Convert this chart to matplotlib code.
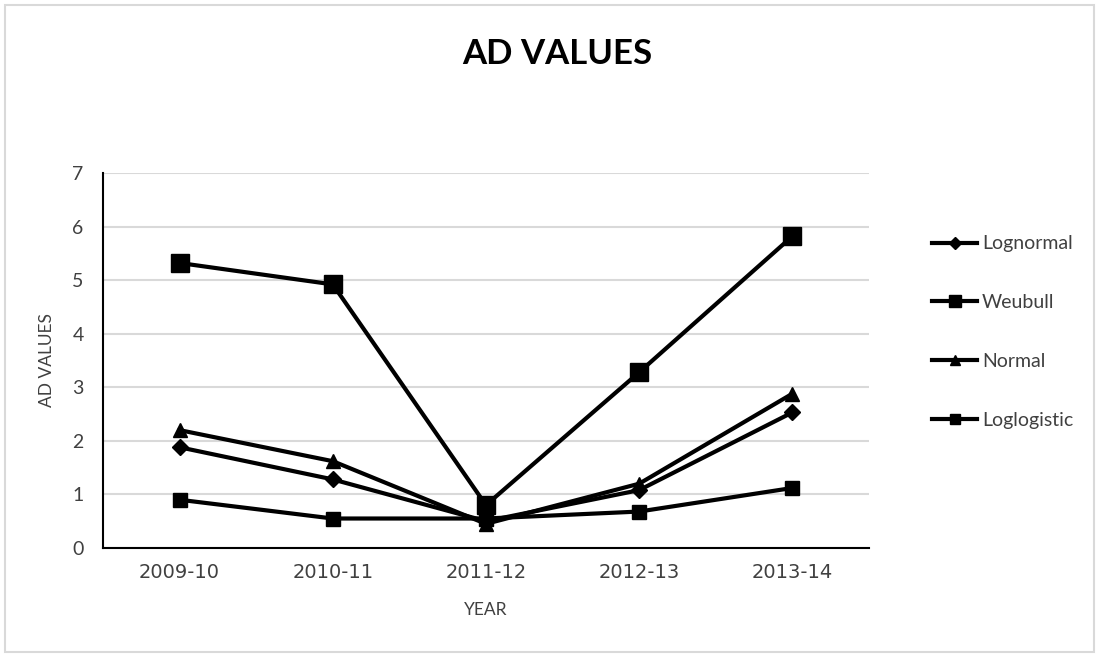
import numpy as np
import matplotlib.pyplot as plt
from matplotlib.patches import Rectangle

years = ["2009-10", "2010-11", "2011-12", "2012-13", "2013-14"]
lognormal = [1.88, 1.28, 0.50, 1.08, 2.53]
weubull = [5.32, 4.92, 0.80, 3.28, 5.82]
normal = [2.20, 1.62, 0.45, 1.20, 2.88]
loglogistic = [0.90, 0.55, 0.55, 0.68, 1.12]

plt.rcParams['font.family'] = ['Lato', 'DejaVu Sans']

fig = plt.figure(figsize=(10.99, 6.55), dpi=100)
ax = fig.add_axes([0.0937, 0.1634, 0.697, 0.5725])

# thin grey frame round the whole chart
fig.patches.append(Rectangle((0.005, 0.004), 0.99, 0.988, transform=fig.transFigure,
                             fill=False, edgecolor="#d9d9d9", linewidth=1.5))

x = np.arange(len(years))
l1, = ax.plot(x, lognormal, color="black", lw=3, marker="D", ms=8.5)
l2, = ax.plot(x, weubull, color="black", lw=3, marker="s", ms=13)
l3, = ax.plot(x, normal, color="black", lw=3, marker="^", ms=10.5)
l4, = ax.plot(x, loglogistic, color="black", lw=3, marker="s", ms=9.5)

ax.set_xlim(-0.5, len(years) - 0.5)
ax.set_ylim(0, 7)
ax.set_xticks(x)
ax.set_xticklabels(years, fontsize=14, color="#404040", family=['DejaVu Sans'])
ax.set_yticks(range(8))
ax.tick_params(axis='y', labelsize=14, colors="#404040", length=0, pad=14)
ax.tick_params(axis='x', length=0, pad=11)
ax.yaxis.grid(True, color="#d9d9d9", lw=1.5)
ax.set_axisbelow(True)
for s in ["top", "right"]:
    ax.spines[s].set_visible(False)
ax.spines["left"].set_linewidth(1.5)
ax.spines["bottom"].set_linewidth(1.5)

ax.set_xlabel("YEAR", fontsize=12.5, color="#404040", labelpad=14)
ax.set_ylabel("AD VALUES", fontsize=12.5, color="#404040", labelpad=12)
fig.text(0.507, 0.918, "AD VALUES", ha="center", va="center",
         fontsize=25, fontweight="bold")

ax.legend((l1, l2, l3, l4), ("Lognormal", "Weubull", "Normal", "Loglogistic"),
          loc="upper left", bbox_to_anchor=(1.06, 0.88), frameon=False,
          fontsize=14, labelspacing=2.15, handlelength=2.3, handletextpad=0.25,
          markerscale=0.7, labelcolor="#404040")

fig.savefig("out.png", dpi=100)
